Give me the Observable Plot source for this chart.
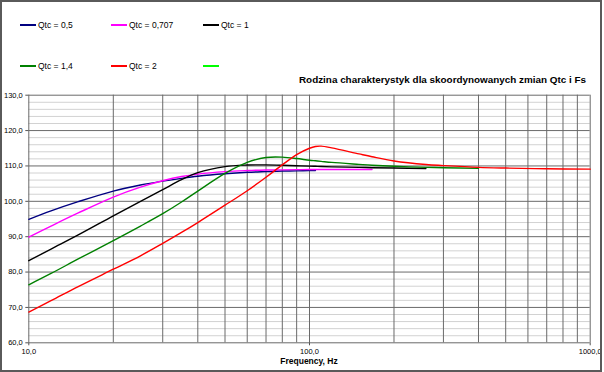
<!DOCTYPE html>
<html><head><meta charset="utf-8">
<script src="https://cdn.jsdelivr.net/npm/d3@7"></script>
<script src="https://cdn.jsdelivr.net/npm/@observablehq/plot@0.6"></script>
<style>
body{margin:0;background:#fff;}
#wrap{position:relative;width:604px;height:372px;overflow:hidden;font-family:"Liberation Sans",Arial,sans-serif;background:#fff;}
#chart{position:absolute;left:0;top:0;}
#frame{position:absolute;left:0;top:0;width:602px;height:372px;box-sizing:border-box;border:2px solid #5a5a5a;pointer-events:none;}
.leg{position:absolute;font-size:8.5px;color:#000;white-space:nowrap;line-height:10px;}
.sw{display:inline-block;width:16px;height:2px;vertical-align:middle;margin-right:2px;position:relative;top:-1px;}
#title{position:absolute;right:18px;top:74px;font-size:9.9px;font-weight:bold;white-space:nowrap;}
#xlabel{position:absolute;left:259px;width:100px;text-align:center;top:356px;font-size:8.5px;font-weight:bold;}
</style></head>
<body>
<div id="wrap">
  <div id="chart"></div>
  <div id="legend"></div>
  <div id="title">Rodzina charakterystyk dla skoordynowanych zmian Qtc i Fs</div>
  <div id="xlabel">Frequency, Hz</div>
  <div id="frame"></div>
</div>
<script>
// Frequencies (Hz)
const freq = [10,12,15,20,25,30,35,40,50,60,70,80,90,100,105,110,120,150,167,200,260,300,400,500,700,1000];
// Levels (dB) per series, null where the series has no data
const qtc05  = [94.9,97.3,99.9,102.9,104.6,105.7,106.5,107.1,107.8,108.2,108.4,108.55,108.6,108.7,108.7,null,null,null,null,null,null,null,null,null,null,null];
const qtc0707= [89.9,93.0,96.7,101.2,104.0,105.8,107.0,107.7,108.4,108.7,108.85,108.9,108.95,109.0,109.0,109.0,109.0,109.0,109.0,null,null,null,null,null,null,null];
const qtc1   = [83.2,86.5,90.5,95.9,100.0,103.3,106.1,108.1,109.8,110.25,110.3,110.2,110.05,109.95,109.9,109.85,109.75,109.6,109.5,109.4,109.25,null,null,null,null,null];
const qtc14  = [76.4,79.6,83.7,88.9,93.0,96.5,99.8,102.9,107.9,111.0,112.4,112.5,112.1,111.6,111.45,111.3,111.0,110.45,110.2,109.9,109.6,109.5,109.3,null,null,null];
const qtc2   = [68.7,71.9,75.9,80.8,84.6,88.1,91.2,94.0,98.9,103.0,106.8,110.3,113.2,115.0,115.5,115.6,115.1,113.4,112.6,111.4,110.4,110.1,109.6,109.4,109.2,109.1];

const seriesNames  = ["Qtc = 0,5","Qtc = 0,707","Qtc = 1","Qtc = 1,4","Qtc = 2",""];
const seriesColors = ["#000080","#ff00ff","#000000","#008000","#ff0000","#00ff00"];
const seriesValues = [qtc05,qtc0707,qtc1,qtc14,qtc2,[]];

const xTicks = [10,100,1000];
const xGrid  = [10,20,30,40,50,60,70,80,90,100,200,300,400,500,600,700,800,900,1000];
const yTicks = [60,70,80,90,100,110,120,130];
const yMinor = d3.range(60,131,2).filter(v => v % 10 !== 0);

const fmt = d => d.toFixed(1).replace(".", ",");

const data = seriesNames.flatMap((name,si) =>
  freq.map((f,i) => ({f, v: seriesValues[si][i], s: name, k: si}))
      .filter(d => d.v != null));

const chart = Plot.plot({
  width: 604, height: 372,
  marginLeft: 28.3, marginRight: 14.3, marginTop: 94.7, marginBottom: 29.7,
  x: {type: "log", domain: [10,1000]},
  y: {domain: [60,130]},
  color: {domain: seriesNames.map((n,i)=>i), range: seriesColors},
  style: {fontFamily: "Liberation Sans, Arial, sans-serif", fontSize: "7.5px", background: "transparent", color: "#000"},
  marks: [
    Plot.ruleY(yMinor, {stroke: "#d2d2d2", strokeWidth: 1}),
    Plot.ruleY(yTicks, {stroke: "#6a6a6a", strokeWidth: 1}),
    Plot.ruleX(xGrid, {stroke: "#6a6a6a", strokeWidth: 1}),
    Plot.axisY(yTicks, {tickFormat: fmt, tickSize: 3, tickPadding: 3, label: null, stroke: "#555"}),
    Plot.axisX(xTicks, {tickFormat: fmt, tickSize: 3, tickPadding: 3, label: null, stroke: "#555"}),
    Plot.line(data, {x: "f", y: "v", z: "k", stroke: "k", strokeWidth: 1.4, curve: "catmull-rom"})
  ]
});
document.getElementById("chart").appendChild(chart);

// Legend (2 rows x 3 columns)
const leg = document.getElementById("legend");
const colX = [20,111,203];
const rowY = [20,61];
seriesNames.forEach((name,i) => {
  const d = document.createElement("div");
  d.className = "leg";
  d.style.left = colX[i % 3] + "px";
  d.style.top = rowY[Math.floor(i / 3)] + "px";
  const sw = document.createElement("span");
  sw.className = "sw";
  sw.style.background = seriesColors[i];
  d.appendChild(sw);
  d.appendChild(document.createTextNode(name));
  leg.appendChild(d);
});
</script>
</body></html>
